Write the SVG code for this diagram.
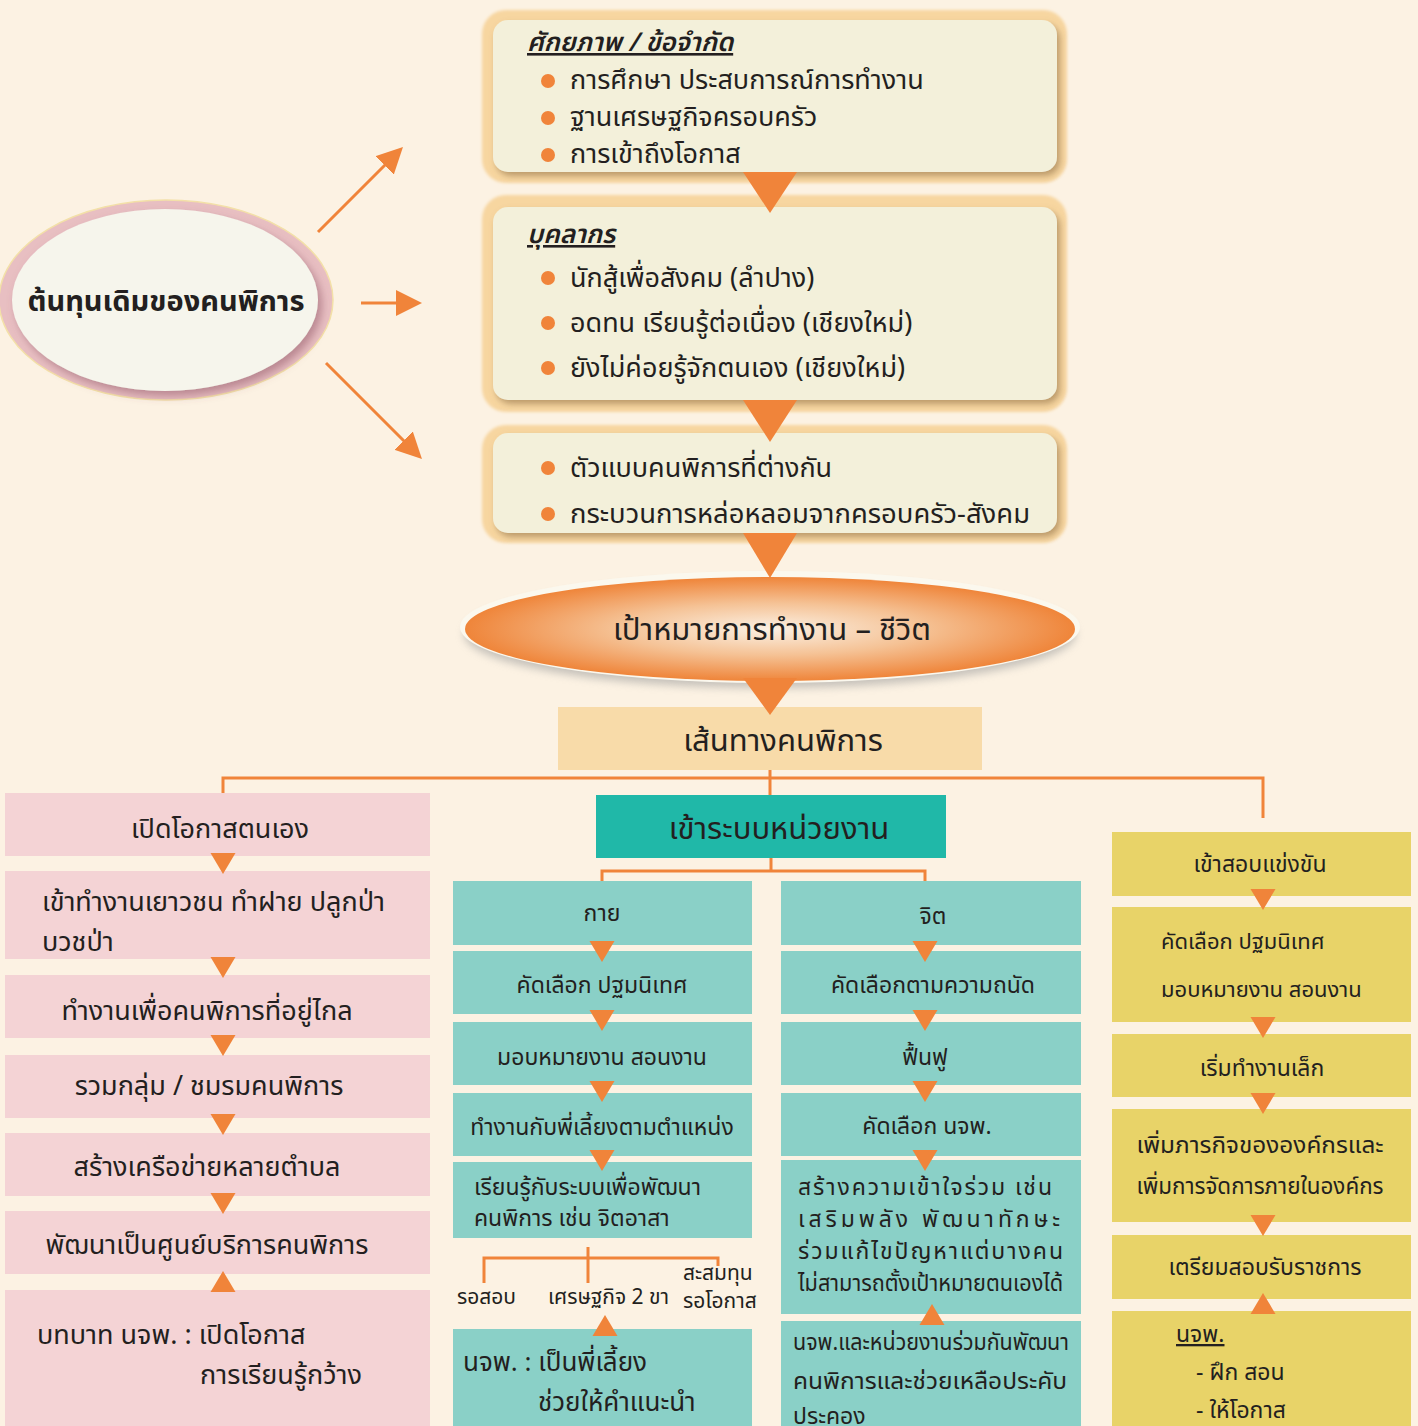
<svg xmlns="http://www.w3.org/2000/svg" xmlns:xlink="http://www.w3.org/1999/xlink" width="1418" height="1426" viewBox="0 0 1418 1426">
<defs>
<style>
.t{font-family:"Noto Sans Thai","Noto Sans","DejaVu Sans",sans-serif;fill:#231F20;}
.c{text-anchor:middle;}
.f27{font-size:27px;}
.f26{font-size:26px;}
.f23{font-size:23px;}
.f22{font-size:22px;}
.f21{font-size:21px;}
.f31{font-size:31px;}
.glow{fill:#F7D6A0;}
.inner{fill:#F3F0DA;}
.pink{fill:#F4D3D5;}
.teal{fill:#8AD0C7;}
.tealH{fill:#20B8A8;}
.yel{fill:#E8D368;}
.tri{fill:#F0843A;}
.ln{stroke:#F0843A;stroke-width:3;fill:none;}
.dot{fill:#F0843A;}
</style>
<filter id="blur" x="-10%" y="-10%" width="120%" height="120%"><feGaussianBlur stdDeviation="1.5"/></filter>
<filter id="blur2" x="-10%" y="-20%" width="120%" height="140%"><feGaussianBlur stdDeviation="4"/></filter>
<filter id="sh" x="-10%" y="-10%" width="125%" height="130%"><feDropShadow dx="3" dy="4" stdDeviation="3" flood-color="#8A6A40" flood-opacity="0.55"/></filter>
<filter id="sh3" x="-10%" y="-10%" width="125%" height="130%"><feDropShadow dx="4" dy="5" stdDeviation="4" flood-color="#8A5060" flood-opacity="0.5"/></filter>
<radialGradient id="goal" cx="0.5" cy="0.5" r="0.5">
<stop offset="0" stop-color="#FBF0E3"/>
<stop offset="0.5" stop-color="#F5C295"/>
<stop offset="1" stop-color="#EF853A"/>
</radialGradient>
<path id="td" d="M-12.5,0 L12.5,0 L0,21 Z"/>
<path id="tu" d="M-12.5,21 L12.5,21 L0,0 Z"/>
<marker id="ah" markerWidth="26" markerHeight="26" refX="2" refY="13" orient="auto" markerUnits="userSpaceOnUse" viewBox="0 0 26 26">
<path d="M0,0 L26,13 L0,26 Z" fill="#F0843A"/>
</marker>
</defs>
<rect width="1418" height="1426" fill="#FCF2E3"/>

<!-- source ellipse -->
<g id="source">
<ellipse cx="166" cy="300" rx="167" ry="100" fill="#E8BFC2" stroke="#F3E0A8" stroke-width="1.5"/>
<ellipse cx="165" cy="300" rx="153" ry="91" fill="#F6F5EC" filter="url(#sh3)"/>
<text class="t c" x="166" y="311" font-size="29" font-weight="bold">ต้นทุนเดิมของคนพิการ</text>
</g>

<!-- top boxes -->
<g id="box-potential">
<rect x="482" y="10" width="585" height="173" rx="24" class="glow" filter="url(#blur)"/>
<rect x="493" y="20" width="564" height="152" rx="15" class="inner" filter="url(#sh)"/>
<text class="t f26" x="527" y="51" font-weight="600" font-style="italic" text-decoration="underline">ศักยภาพ / ข้อจำกัด</text>
<circle class="dot" cx="548" cy="81" r="7"/><text class="t f27" x="570" y="89">การศึกษา ประสบการณ์การทำงาน</text>
<circle class="dot" cx="548" cy="118" r="7"/><text class="t f27" x="570" y="126">ฐานเศรษฐกิจครอบครัว</text>
<circle class="dot" cx="548" cy="155" r="7"/><text class="t f27" x="570" y="163">การเข้าถึงโอกาส</text>
</g>
<g id="box-personnel">
<rect x="482" y="195" width="585" height="217" rx="24" class="glow" filter="url(#blur)"/>
<rect x="493" y="207" width="564" height="193" rx="15" class="inner" filter="url(#sh)"/>
<text class="t f26" x="527" y="243" font-weight="600" font-style="italic" text-decoration="underline">บุคลากร</text>
<circle class="dot" cx="548" cy="278" r="7"/><text class="t f27" x="570" y="287">นักสู้เพื่อสังคม  (ลำปาง)</text>
<circle class="dot" cx="548" cy="323" r="7"/><text class="t f27" x="570" y="332">อดทน เรียนรู้ต่อเนื่อง  (เชียงใหม่)</text>
<circle class="dot" cx="548" cy="368" r="7"/><text class="t f27" x="570" y="377">ยังไม่ค่อยรู้จักตนเอง  (เชียงใหม่)</text>
</g>
<g id="box-model">
<rect x="482" y="425" width="585" height="118" rx="24" class="glow" filter="url(#blur)"/>
<rect x="493" y="433" width="564" height="100" rx="15" class="inner" filter="url(#sh)"/>
<circle class="dot" cx="548" cy="468" r="7"/><text class="t f27" x="570" y="477">ตัวแบบคนพิการที่ต่างกัน</text>
<circle class="dot" cx="548" cy="514" r="7"/><text class="t f27" x="570" y="523" textLength="460" lengthAdjust="spacingAndGlyphs">กระบวนการหล่อหลอมจากครอบครัว-สังคม</text>
</g>

<!-- goal ellipse -->
<g id="goal-node">
<ellipse cx="770" cy="634" rx="306" ry="54" fill="#999" opacity="0.55" filter="url(#blur2)"/>
<ellipse cx="770" cy="627" rx="310" ry="56" fill="#FBF8EE"/>
<ellipse cx="770" cy="629" rx="305" ry="52" fill="url(#goal)"/>
<text class="t c f31" x="772" y="640">เป้าหมายการทำงาน – ชีวิต</text>
</g>

<g id="path-node">
<rect x="558" y="707" width="424" height="63" fill="#F8DBA9"/>
<text class="t c f31" x="783" y="751">เส้นทางคนพิการ</text>
</g>

<!-- left pink column -->
<g id="p1"><rect class="pink" x="5" y="793" width="425" height="63"/><text class="t c f27" x="220" y="838">เปิดโอกาสตนเอง</text></g>
<g id="p2"><rect class="pink" x="5" y="871" width="425" height="88"/><text class="t f27" x="42" y="911">เข้าทำงานเยาวชน ทำฝาย ปลูกป่า</text><text class="t f27" x="42" y="951">บวชป่า</text></g>
<g id="p3"><rect class="pink" x="5" y="975" width="425" height="63"/><text class="t c f27" x="207" y="1020">ทำงานเพื่อคนพิการที่อยู่ไกล</text></g>
<g id="p4"><rect class="pink" x="5" y="1055" width="425" height="63"/><text class="t c f27" x="209" y="1095">รวมกลุ่ม / ชมรมคนพิการ</text></g>
<g id="p5"><rect class="pink" x="5" y="1133" width="425" height="63"/><text class="t c f27" x="207" y="1176">สร้างเครือข่ายหลายตำบล</text></g>
<g id="p6"><rect class="pink" x="5" y="1211" width="425" height="63"/><text class="t c f27" x="207" y="1254">พัฒนาเป็นศูนย์บริการคนพิการ</text></g>
<g id="p7"><rect class="pink" x="5" y="1290" width="425" height="140"/><text class="t f27" x="37" y="1344">บทบาท นจพ. : เปิดโอกาส</text><text class="t f27" x="200" y="1384">การเรียนรู้กว้าง</text></g>

<!-- teal header -->
<g id="t0"><rect class="tealH" x="596" y="795" width="350" height="63"/><text class="t c f31" x="779" y="839">เข้าระบบหน่วยงาน</text></g>

<!-- teal col1 -->
<g id="a1"><rect class="teal" x="453" y="881" width="299" height="64"/><text class="t c f23" x="602" y="921">กาย</text></g>
<g id="a2"><rect class="teal" x="453" y="951" width="299" height="63"/><text class="t c f23" x="602" y="993">คัดเลือก ปฐมนิเทศ</text></g>
<g id="a3"><rect class="teal" x="453" y="1022" width="299" height="63"/><text class="t c f23" x="602" y="1065">มอบหมายงาน สอนงาน</text></g>
<g id="a4"><rect class="teal" x="453" y="1093" width="299" height="63"/><text class="t c f23" x="602" y="1135">ทำงานกับพี่เลี้ยงตามตำแหน่ง</text></g>
<g id="a5"><rect class="teal" x="453" y="1162" width="299" height="76"/><text class="t f23" x="474" y="1195">เรียนรู้กับระบบเพื่อพัฒนา</text><text class="t f23" x="474" y="1226">คนพิการ เช่น จิตอาสา</text></g>
<g id="a-labels">
<text class="t f21" x="457" y="1304">รอสอบ</text>
<text class="t f21" x="548" y="1304">เศรษฐกิจ 2 ขา</text>
<text class="t f21" x="683" y="1280">สะสมทุน</text>
<text class="t f21" x="683" y="1308">รอโอกาส</text>
</g>
<g id="a6"><rect class="teal" x="453" y="1329" width="299" height="100"/><text class="t f26" x="463" y="1371">นจพ. : เป็นพี่เลี้ยง</text><text class="t f26" x="538" y="1411">ช่วยให้คำแนะนำ</text></g>

<!-- teal col2 -->
<g id="b1"><rect class="teal" x="781" y="881" width="300" height="64"/><text class="t c f23" x="933" y="924">จิต</text></g>
<g id="b2"><rect class="teal" x="781" y="951" width="300" height="63"/><text class="t c f23" x="933" y="993">คัดเลือกตามความถนัด</text></g>
<g id="b3"><rect class="teal" x="781" y="1022" width="300" height="63"/><text class="t c f23" x="925" y="1065">ฟื้นฟู</text></g>
<g id="b4"><rect class="teal" x="781" y="1093" width="300" height="63"/><text class="t c f23" x="927" y="1134">คัดเลือก นจพ.</text></g>
<g id="b5"><rect class="teal" x="781" y="1160" width="300" height="154"/>
<text class="t f23" x="798" y="1195" textLength="254" lengthAdjust="spacing">สร้างความเข้าใจร่วม เช่น</text>
<text class="t f23" x="798" y="1227" textLength="262" lengthAdjust="spacing">เสริมพลัง พัฒนาทักษะ</text>
<text class="t f23" x="798" y="1259" textLength="265" lengthAdjust="spacing">ร่วมแก้ไขปัญหาแต่บางคน</text>
<text class="t f23" x="798" y="1291" textLength="265" lengthAdjust="spacingAndGlyphs">ไม่สามารถตั้งเป้าหมายตนเองได้</text></g>
<g id="b6"><rect class="teal" x="781" y="1321" width="300" height="110"/>
<text class="t f23" x="793" y="1350" textLength="276" lengthAdjust="spacingAndGlyphs">นจพ.และหน่วยงานร่วมกันพัฒนา</text>
<text class="t f23" x="793" y="1389" textLength="274" lengthAdjust="spacingAndGlyphs">คนพิการและช่วยเหลือประคับ</text>
<text class="t f23" x="793" y="1424">ประคอง</text></g>

<!-- yellow column -->
<g id="y1"><rect class="yel" x="1112" y="832" width="299" height="64"/><text class="t c f23" x="1260" y="872">เข้าสอบแข่งขัน</text></g>
<g id="y2"><rect class="yel" x="1112" y="907" width="299" height="115"/><text class="t f22" x="1161" y="949">คัดเลือก ปฐมนิเทศ</text><text class="t f22" x="1161" y="997">มอบหมายงาน สอนงาน</text></g>
<g id="y3"><rect class="yel" x="1112" y="1034" width="299" height="63"/><text class="t c f23" x="1262" y="1076">เริ่มทำงานเล็ก</text></g>
<g id="y4"><rect class="yel" x="1112" y="1109" width="299" height="113"/><text class="t c" font-size="23.5" x="1260" y="1153" textLength="247" lengthAdjust="spacingAndGlyphs">เพิ่มภารกิจขององค์กรและ</text><text class="t c" font-size="23.5" x="1260" y="1194" textLength="247" lengthAdjust="spacingAndGlyphs">เพิ่มการจัดการภายในองค์กร</text></g>
<g id="y5"><rect class="yel" x="1112" y="1235" width="299" height="64"/><text class="t c f23" x="1265" y="1275">เตรียมสอบรับราชการ</text></g>
<g id="y6"><rect class="yel" x="1112" y="1311" width="299" height="120"/><text class="t f23" x="1176" y="1342" text-decoration="underline">นจพ.</text><text class="t f23" x="1196" y="1380">- ฝึก สอน</text><text class="t f23" x="1196" y="1418">- ให้โอกาส</text></g>

<!-- connectors -->
<g id="connectors">
<line class="ln" x1="318" y1="232" x2="386" y2="164" marker-end="url(#ah)" stroke-width="2.5"/>
<line class="ln" x1="361" y1="303" x2="398" y2="303" marker-end="url(#ah)" stroke-width="2.5"/>
<line class="ln" x1="326" y1="363" x2="405" y2="442" marker-end="url(#ah)" stroke-width="2.5"/>
<polygon class="tri" points="743,172 797,172 770,213"/>
<polygon class="tri" points="743,400 797,400 770,442"/>
<polygon class="tri" points="743,533 797,533 770,578"/>
<polygon class="tri" points="743,678 797,678 770,715"/>
<polyline class="ln" points="223,793 223,778 1263,778 1263,818"/>
<line class="ln" x1="770" y1="770" x2="770" y2="795"/>
<line class="ln" x1="771" y1="858" x2="771" y2="871"/>
<polyline class="ln" points="602,881 602,871 925,871 925,881"/>
<line class="ln" x1="588" y1="1247" x2="588" y2="1283"/>
<polyline class="ln" points="484,1283 484,1258 718,1258 718,1266"/>
<use href="#td" x="223" y="853" class="tri"/>
<use href="#td" x="223" y="957" class="tri"/>
<use href="#td" x="223" y="1035" class="tri"/>
<use href="#td" x="223" y="1114" class="tri"/>
<use href="#td" x="223" y="1193" class="tri"/>
<use href="#tu" x="223" y="1271" class="tri"/>
<use href="#td" x="602" y="941" class="tri"/>
<use href="#td" x="602" y="1010" class="tri"/>
<use href="#td" x="602" y="1081" class="tri"/>
<use href="#td" x="602" y="1150" class="tri"/>
<use href="#tu" x="605" y="1315" class="tri"/>
<use href="#td" x="925" y="941" class="tri"/>
<use href="#td" x="925" y="1010" class="tri"/>
<use href="#td" x="925" y="1081" class="tri"/>
<use href="#td" x="925" y="1150" class="tri"/>
<use href="#tu" x="932" y="1304" class="tri"/>
<use href="#td" x="1263" y="889" class="tri"/>
<use href="#td" x="1263" y="1017" class="tri"/>
<use href="#td" x="1263" y="1093" class="tri"/>
<use href="#td" x="1263" y="1215" class="tri"/>
<use href="#tu" x="1263" y="1293" class="tri"/>
</g>
</svg>
